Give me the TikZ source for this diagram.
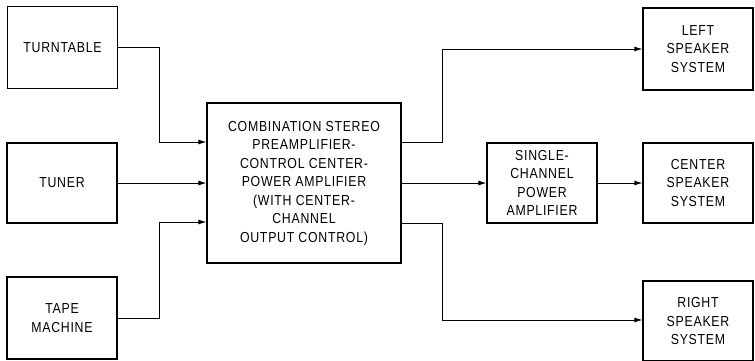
\documentclass[tikz,border=0pt]{standalone}
\usepackage{fontspec}
\setmainfont{Liberation Sans}[FakeStretch=0.85, LetterSpace=5]
\usetikzlibrary{arrows.meta}
\begin{document}
\begin{tikzpicture}[x=1pt,y=-1pt,
  box/.style={draw, line width=1.3pt, align=center, inner sep=0pt,
    minimum width=110pt, minimum height=80pt,
    font=\fontsize{14.5}{18.5}\selectfont},
  arr/.style={line width=0.8pt, -{Latex[length=8pt,width=5pt]}},
  ln/.style={line width=0.8pt}]
\useasboundingbox (0,0) rectangle (755,360);
\node[box, minimum height=82pt] (tt) at (62.5,47.5) {TURNTABLE};
\node[box] (tun) at (62,183) {TUNER};
\node[box, minimum height=82pt] (tape) at (62,318) {TAPE\\MACHINE};
\node[box, minimum width=194pt, minimum height=160pt] (main) at (304,183)
  {COMBINATION STEREO\\PREAMPLIFIER-\\CONTROL CENTER-\\POWER AMPLIFIER\\(WITH CENTER-\\CHANNEL\\OUTPUT CONTROL)};
\node[box, minimum height=82pt] (left) at (698,49) {LEFT\\SPEAKER\\SYSTEM};
\node[box] (single) at (542,183) {SINGLE-\\CHANNEL\\POWER\\AMPLIFIER};
\node[box] (center) at (698,183) {CENTER\\SPEAKER\\SYSTEM};
\node[box] (right) at (698,321) {RIGHT\\SPEAKER\\SYSTEM};
% inputs
\draw[arr] (tt.east) -- ++(41,0) |- ([yshift=41pt]main.west);
\draw[arr] (tun.east) -- (main.west);
\draw[arr] (tape.east) -- ++(42,0) |- ([yshift=-39pt]main.west);
% outputs
\draw[arr] ([yshift=41pt]main.east) -- ++(41,0) |- (left.west);
\draw[arr] (main.east) -- (single.west);
\draw[arr] (single.east) -- (center.west);
\draw[arr] ([yshift=-40pt]main.east) -- ++(41,0) |- ([yshift=1pt]right.west);
\end{tikzpicture}
\end{document}
